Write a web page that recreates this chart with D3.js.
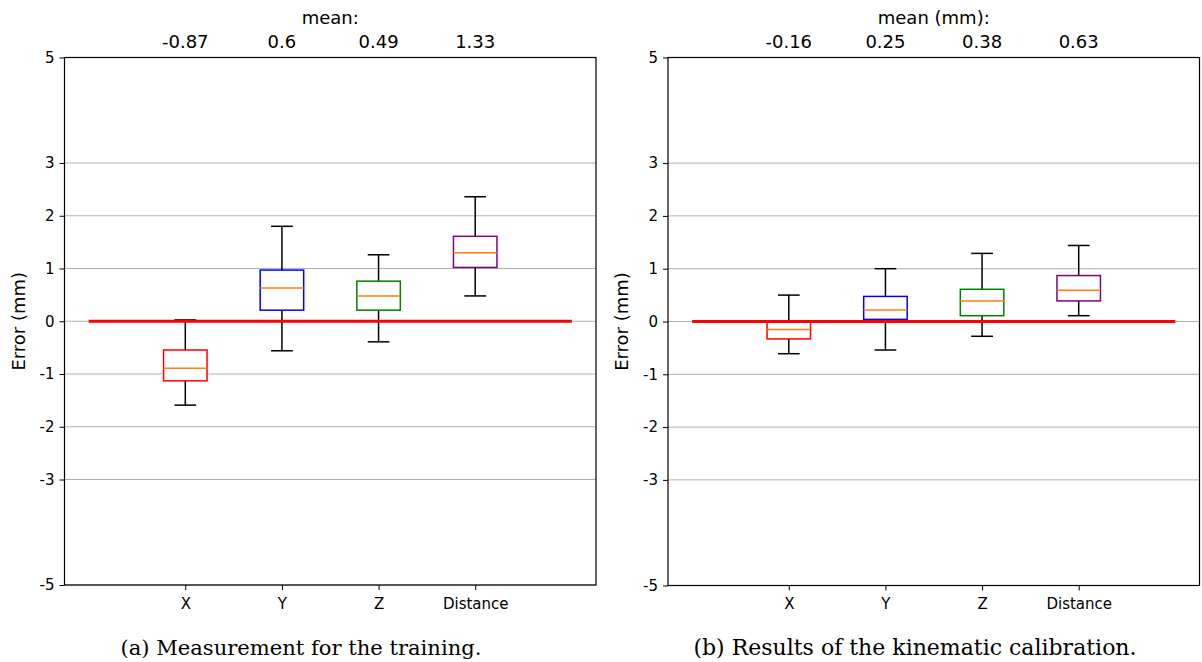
<!DOCTYPE html>
<html>
<head>
<meta charset="utf-8">
<script src="https://cdn.jsdelivr.net/npm/d3@7/dist/d3.min.js"></script>
<style>
  html, body { margin: 0; padding: 0; background: #fff; }
  svg { display: block; }
  text { font-family: "DejaVu Sans", sans-serif; fill: #000; }
  .caption { font-family: "DejaVu Serif", "Liberation Serif", serif; }
</style>
</head>
<body>
<svg id="chart" width="1202" height="662"></svg>
<script>
// categories and ticks
const categories = ["X", "Y", "Z", "Distance"];
const yTicks = [5, 3, 2, 1, 0, -1, -2, -3, -5];
const boxColors = ["#ff0000", "#0000ff", "#008000", "#800080"];

// (a) measurement for the training
const meanA = ["-0.87", "0.6", "0.49", "1.33"];
const lowA = [-1.59, -0.56, -0.39, 0.48];
const q1A = [-1.13, 0.21, 0.21, 1.02];
const medA = [-0.89, 0.63, 0.48, 1.30];
const q3A = [-0.545, 0.97, 0.76, 1.61];
const highA = [0.025, 1.80, 1.26, 2.36];

// (b) results of the kinematic calibration
const meanB = ["-0.16", "0.25", "0.38", "0.63"];
const lowB = [-0.61, -0.54, -0.28, 0.11];
const q1B = [-0.33, 0.04, 0.11, 0.39];
const medB = [-0.15, 0.22, 0.39, 0.59];
const q3B = [-0.01, 0.475, 0.61, 0.87];
const highB = [0.50, 1.00, 1.29, 1.44];

const svg = d3.select("#chart");

function drawPanel(opt) {
  const { left, right, top, bottom, title, means, low, q1, med, q3, high, caption, captionX, captionW } = opt;
  const g = svg.append("g");

  // positions 1..4, matplotlib-like padding
  const x = d3.scaleLinear().domain([-0.25, 5.25]).range([left, right]);
  const y = d3.scaleLinear().domain([-5, 5]).range([bottom, top]);
  const step = x(1) - x(0);
  const boxW = 0.45 * step;
  const capW = boxW / 2;

  // grid
  g.append("g").selectAll("line").data(yTicks).join("line")
    .attr("x1", left).attr("x2", right)
    .attr("y1", d => y(d)).attr("y2", d => y(d))
    .attr("stroke", "#b0b0b0").attr("stroke-width", 1);

  const series = categories.map((c, i) => ({
    c, i, pos: i + 1, low: low[i], q1: q1[i], med: med[i], q3: q3[i], high: high[i]
  }));

  const boxes = g.append("g").selectAll("g").data(series).join("g");

  // whiskers
  boxes.append("line")
    .attr("x1", d => x(d.pos)).attr("x2", d => x(d.pos))
    .attr("y1", d => y(d.q3)).attr("y2", d => y(d.high))
    .attr("stroke", "#000").attr("stroke-width", 1.5);
  boxes.append("line")
    .attr("x1", d => x(d.pos)).attr("x2", d => x(d.pos))
    .attr("y1", d => y(d.q1)).attr("y2", d => y(d.low))
    .attr("stroke", "#000").attr("stroke-width", 1.5);
  // caps
  boxes.append("line")
    .attr("x1", d => x(d.pos) - capW / 2).attr("x2", d => x(d.pos) + capW / 2)
    .attr("y1", d => y(d.high)).attr("y2", d => y(d.high))
    .attr("stroke", "#000").attr("stroke-width", 1.5);
  boxes.append("line")
    .attr("x1", d => x(d.pos) - capW / 2).attr("x2", d => x(d.pos) + capW / 2)
    .attr("y1", d => y(d.low)).attr("y2", d => y(d.low))
    .attr("stroke", "#000").attr("stroke-width", 1.5);
  // box
  boxes.append("rect")
    .attr("x", d => x(d.pos) - boxW / 2)
    .attr("y", d => y(d.q3))
    .attr("width", boxW)
    .attr("height", d => y(d.q1) - y(d.q3))
    .attr("fill", "#fff")
    .attr("stroke", d => boxColors[d.i]).attr("stroke-width", 1.5);
  // median
  boxes.append("line")
    .attr("x1", d => x(d.pos) - boxW / 2).attr("x2", d => x(d.pos) + boxW / 2)
    .attr("y1", d => y(d.med)).attr("y2", d => y(d.med))
    .attr("stroke", "#ff7f0e").attr("stroke-width", 1.5);

  // zero reference line
  g.append("line")
    .attr("x1", x(0)).attr("x2", x(5))
    .attr("y1", y(0)).attr("y2", y(0))
    .attr("stroke", "#ff0000").attr("stroke-width", 3);

  // frame
  g.append("rect")
    .attr("x", left).attr("y", top)
    .attr("width", right - left).attr("height", bottom - top)
    .attr("fill", "none").attr("stroke", "#000").attr("stroke-width", 1.2);

  // y axis
  const yAxis = d3.axisLeft(y).tickValues(yTicks).tickSize(5).tickPadding(5)
    .tickFormat(d => String(d));
  const ya = g.append("g").attr("transform", `translate(${left},0)`).call(yAxis);
  ya.select(".domain").remove();
  ya.selectAll("text").style("font-size", "15px").attr("fill", "#000")
    .style("font-family", "DejaVu Sans, sans-serif");

  // x axis
  const xAxis = d3.axisBottom(x).tickValues(series.map(d => d.pos)).tickSize(5).tickPadding(8)
    .tickFormat((d, i) => categories[i]);
  const xa = g.append("g").attr("transform", `translate(0,${bottom})`).call(xAxis);
  xa.select(".domain").remove();
  xa.selectAll("text").style("font-size", "15px").attr("fill", "#000")
    .style("font-family", "DejaVu Sans, sans-serif");

  // mean labels on top
  g.append("g").selectAll("text").data(series).join("text")
    .attr("x", d => x(d.pos)).attr("y", top - 10)
    .attr("text-anchor", "middle").style("font-size", "18px")
    .text(d => means[d.i]);
  g.append("text")
    .attr("x", (left + right) / 2).attr("y", top - 34)
    .attr("text-anchor", "middle").style("font-size", "18px")
    .text(title);

  // y label
  g.append("text")
    .attr("transform", `translate(${left - 40},${y(0)}) rotate(-90)`)
    .attr("text-anchor", "middle").style("font-size", "18px")
    .text("Error (mm)");

  // caption, font size fitted to the reference width
  const cap = g.append("text").attr("class", "caption")
    .attr("x", captionX).attr("y", 655)
    .attr("text-anchor", "middle").style("font-size", "20px")
    .text(caption);
  const w = cap.node().getComputedTextLength();
  if (w > 0) cap.style("font-size", (20 * captionW / w).toFixed(2) + "px");
}

drawPanel({
  left: 64.5, right: 596, top: 57.5, bottom: 585,
  title: "mean:", means: meanA,
  low: lowA, q1: q1A, med: medA, q3: q3A, high: highA,
  caption: "(a) Measurement for the training.", captionX: 301, captionW: 361
});

drawPanel({
  left: 668, right: 1199.5, top: 57.5, bottom: 585.5,
  title: "mean (mm):", means: meanB,
  low: lowB, q1: q1B, med: medB, q3: q3B, high: highB,
  caption: "(b) Results of the kinematic calibration.", captionX: 915, captionW: 443
});
</script>
</body>
</html>
